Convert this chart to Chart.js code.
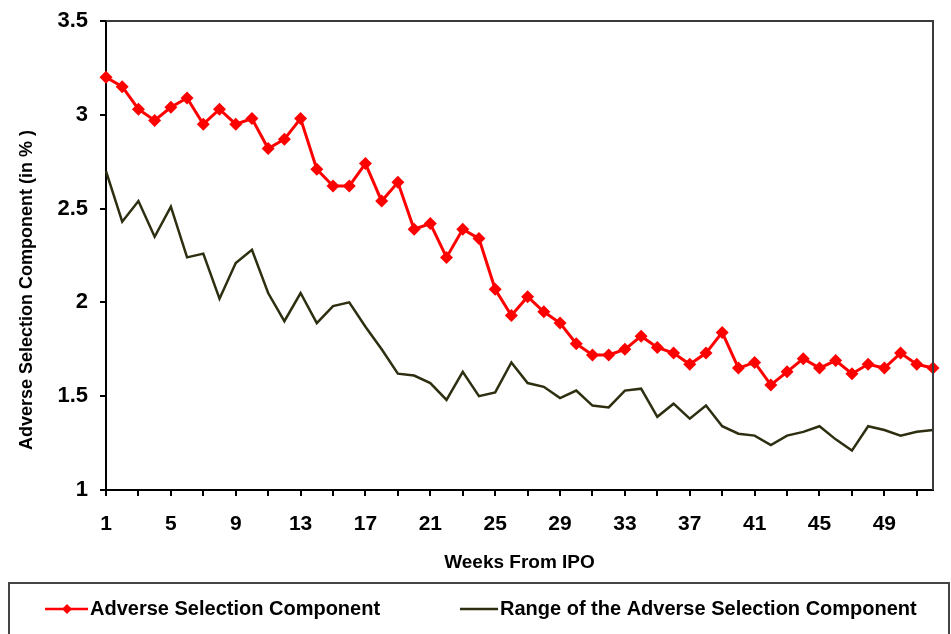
<!DOCTYPE html>
<html>
<head>
<meta charset="utf-8">
<script src="https://cdn.jsdelivr.net/npm/chart.js@4.4.1/dist/chart.umd.min.js"></script>
<style>
  html, body { margin: 0; padding: 0; background: #fff; }
  #wrap { width: 951px; height: 634px; position: relative; }
</style>
</head>
<body>
<div id="wrap"><canvas id="c" width="951" height="634"></canvas></div>
<script>
// weeks after the IPO
const weeks = [1, 2, 3, 4, 5, 6, 7, 8, 9, 10, 11, 12, 13, 14, 15, 16, 17, 18, 19, 20, 21, 22, 23, 24, 25, 26,
  27, 28, 29, 30, 31, 32, 33, 34, 35, 36, 37, 38, 39, 40, 41, 42, 43, 44, 45, 46, 47, 48, 49, 50, 51, 52]

// Adverse Selection Component (in %)
const adverseSel = [3.20, 3.15, 3.03, 2.97, 3.04, 3.09, 2.95, 3.03, 2.95, 2.98,
  2.82, 2.87, 2.98, 2.71, 2.62, 2.62, 2.74, 2.54, 2.64, 2.39,
  2.42, 2.24, 2.39, 2.34, 2.07, 1.93, 2.03, 1.95, 1.89, 1.78,
  1.72, 1.72, 1.75, 1.82, 1.76, 1.73, 1.67, 1.73, 1.84, 1.65,
  1.68, 1.56, 1.63, 1.70, 1.65, 1.69, 1.62, 1.67, 1.65, 1.73,
  1.67, 1.65]

// Range of the Adverse Selection Component
const adverseRange = [2.70, 2.43, 2.54, 2.35, 2.51, 2.24, 2.26, 2.02, 2.21, 2.28,
  2.05, 1.90, 2.05, 1.89, 1.98, 2.00, 1.87, 1.75, 1.62, 1.61,
  1.57, 1.48, 1.63, 1.50, 1.52, 1.68, 1.57, 1.55, 1.49, 1.53,
  1.45, 1.44, 1.53, 1.54, 1.39, 1.46, 1.38, 1.45, 1.34, 1.30,
  1.29, 1.24, 1.29, 1.31, 1.34, 1.27, 1.21, 1.34, 1.32, 1.29,
  1.31, 1.32]

// tick marks on odd weeks, labels every 4 weeks
const xTicks = [1, 3, 5, 7, 9, 11, 13, 15, 17, 19, 21, 23, 25, 27, 29, 31, 33, 35, 37, 39, 41, 43, 45, 47, 49, 51]
const xLabels = [1, 5, 9, 13, 17, 21, 25, 29, 33, 37, 41, 45, 49]
const yLabels = ["1", "1.5", "2", "2.5", "3", "3.5"]

const seriesNames = ["Adverse Selection Component", "Range of the Adverse Selection Component"]
const xTitle = "Weeks From IPO"
const yTitle = "Adverse Selection Component (in % )"

const RED = "#ff0000"
const OLIVE = "#2e2e10"
const FONT = "'Liberation Sans', Arial, sans-serif"

// cadre, titres des axes et légende
const decorPlugin = {
  id: "decor",
  afterDraw(chart) {
    const ctx = chart.ctx
    const a = chart.chartArea
    ctx.save()

    // top + right border of the plot
    ctx.strokeStyle = "#3a3a3a"
    ctx.lineWidth = 2
    ctx.beginPath()
    ctx.moveTo(a.left, a.top)
    ctx.lineTo(a.right, a.top)
    ctx.lineTo(a.right, a.bottom)
    ctx.stroke()

    // axis titles
    ctx.fillStyle = "#000"
    ctx.textAlign = "center"
    ctx.textBaseline = "middle"
    ctx.font = "bold 19px " + FONT
    ctx.fillText(xTitle, (a.left + a.right) / 2, 563)

    ctx.save()
    ctx.translate(27, 290)
    ctx.rotate(-Math.PI / 2)
    ctx.font = "bold 18px " + FONT
    ctx.fillText(yTitle, 0, 0)
    ctx.restore()

    // legend box
    ctx.strokeStyle = "#444"
    ctx.lineWidth = 2
    ctx.strokeRect(9, 583, 940, 60)

    const ly = 609
    ctx.lineWidth = 2.5
    ctx.strokeStyle = RED
    ctx.beginPath()
    ctx.moveTo(45, ly)
    ctx.lineTo(88, ly)
    ctx.stroke()
    ctx.fillStyle = RED
    ctx.beginPath()
    ctx.moveTo(67, ly - 5)
    ctx.lineTo(72, ly)
    ctx.lineTo(67, ly + 5)
    ctx.lineTo(62, ly)
    ctx.closePath()
    ctx.fill()

    ctx.strokeStyle = OLIVE
    ctx.beginPath()
    ctx.moveTo(460, ly)
    ctx.lineTo(498, ly)
    ctx.stroke()

    ctx.fillStyle = "#000"
    ctx.textAlign = "left"
    ctx.font = "bold 20px " + FONT
    ctx.fillText(seriesNames[0], 90, ly)
    ctx.fillText(seriesNames[1], 500, ly)
    ctx.restore()
  },
}

const ctx = document.getElementById("c").getContext("2d")
new Chart(ctx, {
  type: "line",
  data: {
    datasets: [
      {
        label: seriesNames[0],
        data: weeks.map((w, i) => ({ x: w, y: adverseSel[i] })),
        borderColor: RED,
        backgroundColor: RED,
        borderWidth: 3,
        pointStyle: "rectRot",
        pointRadius: 6.5,
        pointBorderWidth: 0,
        pointBackgroundColor: RED,
        tension: 0,
        clip: false,
      },
      {
        label: seriesNames[1],
        data: weeks.map((w, i) => ({ x: w, y: adverseRange[i] })),
        borderColor: OLIVE,
        backgroundColor: OLIVE,
        borderWidth: 2.5,
        pointRadius: 0,
        tension: 0,
        clip: false,
      },
    ],
  },
  options: {
    responsive: false,
    animation: false,
    events: [],
    layout: { padding: { left: 0, right: 18, top: 21, bottom: 54 } },
    plugins: {
      legend: { display: false },
      tooltip: { enabled: false },
    },
    scales: {
      x: {
        type: "linear",
        min: 1,
        max: 52,
        afterBuildTicks: (scale) => {
          scale.ticks = xTicks.map((v) => ({ value: v }))
        },
        afterFit: (scale) => {
          scale.height = 90
          scale.paddingLeft = 0
          scale.paddingRight = 0
        },
        border: { display: true, color: "#000", width: 2 },
        grid: { display: true, drawOnChartArea: false, drawTicks: true, tickLength: 6, tickColor: "#000", lineWidth: 2 },
        ticks: {
          autoSkip: false,
          maxRotation: 0,
          padding: 16,
          color: "#000",
          font: { family: FONT, size: 21, weight: "bold" },
          callback: (v) => (xLabels.includes(v) ? String(v) : ""),
        },
      },
      y: {
        min: 1,
        max: 3.5,
        afterFit: (scale) => {
          scale.width = 106
          scale.paddingTop = 0
          scale.paddingBottom = 0
        },
        border: { display: true, color: "#000", width: 2 },
        grid: { display: true, drawOnChartArea: false, drawTicks: true, tickLength: 6, tickColor: "#000", lineWidth: 2 },
        ticks: {
          stepSize: 0.5,
          padding: 12,
          color: "#000",
          font: { family: FONT, size: 22, weight: "bold" },
          callback: (v, i) => yLabels[i],
        },
      },
    },
  },
  plugins: [decorPlugin],
})
</script>
</body>
</html>
